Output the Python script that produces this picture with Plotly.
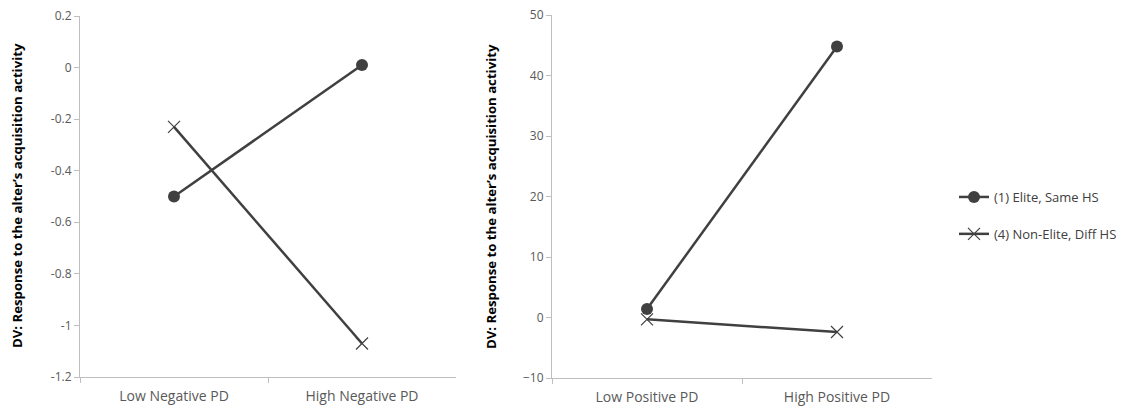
import plotly.graph_objects as go

W, H = 1132, 412

neg_categories = ["Low Negative PD", "High Negative PD"]
pos_categories = ["Low Positive PD", "High Positive PD"]
series_names = ["(1) Elite, Same HS", "(4) Non-Elite, Diff HS"]
neg_elite = [-0.50, 0.01]
neg_nonelite = [-0.23, -1.07]
pos_elite = [1.4, 44.8]
pos_nonelite = [-0.3, -2.4]
neg_ticks = [0.2, 0, -0.2, -0.4, -0.6, -0.8, -1, -1.2]
neg_ticklabels = ["0.2", "0", "-0.2", "-0.4", "-0.6", "-0.8", "-1", "-1.2"]
pos_ticks = [50, 40, 30, 20, 10, 0, -10]
y_title = "DV: Response to the alter\u2019s acquisition activity"

LINE = "#404040"
AXIS = "#bfbfbf"
TICKC = "#595959"
FONT = "Open Sans"

def px_x(p):
    return p / W

def px_y(p):
    return 1 - p / H

fig = go.Figure()

def add_series(x, y, name, symbol, xa, ya, show):
    if symbol == "circle":
        marker = dict(symbol="circle", size=12, color=LINE)
    else:
        marker = dict(symbol="x-thin", size=12, color=LINE, line=dict(width=1.2, color=LINE))
    fig.add_trace(go.Scatter(
        x=x, y=y, name=name, mode="lines+markers",
        line=dict(color=LINE, width=2.5), marker=marker,
        xaxis=xa, yaxis=ya, showlegend=show, legendgroup=name,
    ))

add_series(neg_categories, neg_elite, series_names[0], "circle", "x", "y", True)
add_series(neg_categories, neg_nonelite, series_names[1], "x", "x", "y", True)
add_series(pos_categories, pos_elite, series_names[0], "circle", "x2", "y2", False)
add_series(pos_categories, pos_nonelite, series_names[1], "x", "x2", "y2", False)

xcommon = dict(
    type="category", showline=True, linecolor=AXIS, linewidth=1,
    ticks="outside", tickson="boundaries", ticklen=5, tickcolor=AXIS,
    showgrid=False, zeroline=False, automargin=False,
    tickfont=dict(family=FONT, size=14, color=TICKC),
    ticklabelstandoff=6, ticklabeloverflow="allow",
)
ycommon = dict(
    showline=True, linecolor=AXIS, linewidth=1,
    ticks="outside", ticklen=5, tickcolor=AXIS,
    showgrid=False, zeroline=False, automargin=False,
    tickfont=dict(family=FONT, size=12, color=TICKC),
    ticklabeloverflow="allow",
)

fig.update_layout(
    width=W, height=H,
    margin=dict(l=0, r=0, t=0, b=0, autoexpand=False),
    paper_bgcolor="white", plot_bgcolor="white",
    font=dict(family=FONT, color="#000000"),
    xaxis=dict(domain=[px_x(80), px_x(456)], anchor="y", range=[-0.5, 1.5], **xcommon),
    yaxis=dict(domain=[px_y(377), px_y(16)], anchor="x", range=[-1.2, 0.2],
               tickvals=neg_ticks, ticktext=neg_ticklabels, **ycommon),
    xaxis2=dict(domain=[px_x(552), px_x(932)], anchor="y2", range=[-0.5, 1.5], **xcommon),
    yaxis2=dict(domain=[px_y(378), px_y(15)], anchor="x2", range=[-10, 50],
                tickvals=pos_ticks, **ycommon),
    legend=dict(x=px_x(954), y=px_y(182), xanchor="left", yanchor="top",
                font=dict(family=FONT, size=13, color="#404040"),
                bgcolor="rgba(0,0,0,0)", itemwidth=30, tracegroupgap=17),
    annotations=[
        dict(text="<b>" + y_title + "</b>", x=px_x(17), y=px_y(196), xref="paper", yref="paper",
             xanchor="center", yanchor="middle",
             textangle=-90, showarrow=False, font=dict(family=FONT, size=13.2, color="#000000")),
        dict(text="<b>" + y_title + "</b>", x=px_x(491), y=px_y(196), xref="paper", yref="paper",
             xanchor="center", yanchor="middle",
             textangle=-90, showarrow=False, font=dict(family=FONT, size=13.2, color="#000000")),
    ],
)

fig.write_html(
    "out.html",
    config={"displayModeBar": False},
    post_script="document.body.style.margin='0';document.body.style.overflow='hidden';",
)
